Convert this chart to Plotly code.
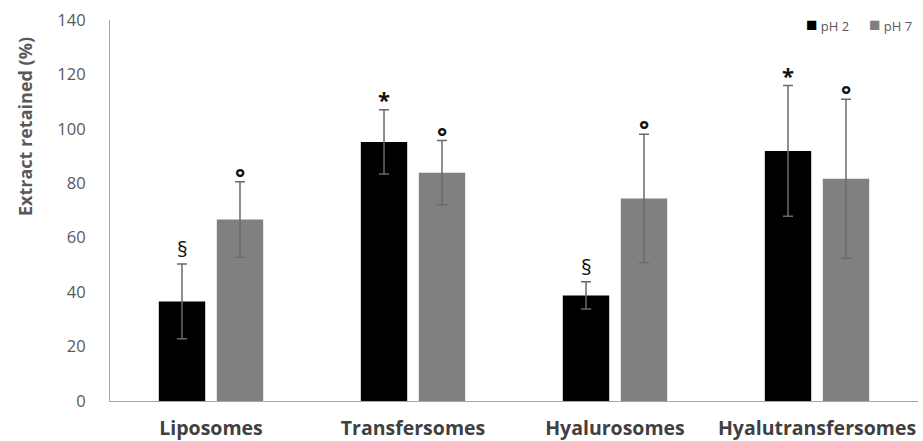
import plotly.graph_objects as go

categories = ["Liposomes", "Transfersomes", "Hyalurosomes", "Hyalutransfersomes"]
ph2_values = [36.6, 95.2, 38.8, 91.9]
ph2_errors = [13.7, 11.8, 5.0, 24.0]
ph7_values = [66.7, 83.9, 74.4, 81.7]
ph7_errors = [13.9, 11.8, 23.6, 29.2]
ph2_marks = ["§", "*", "§", "*"]
ph7_marks = ["°", "°", "°", "°"]
series_names = ["pH 2", "pH 7"]
series_colors = ["#000000", "#808080"]

BARGAP = 0.426
FONT = "'Open Sans', sans-serif"
ERR_COLOR = "#6a6a6a"
AXIS_GRAY = "#595959"

fig = go.Figure()
for name, color, vals, errs in zip(series_names, series_colors,
                                   (ph2_values, ph7_values), (ph2_errors, ph7_errors)):
    fig.add_trace(go.Bar(
        name=name, x=categories, y=vals, marker_color=color, marker_line_width=0,
        error_y=dict(type="data", array=errs, color=ERR_COLOR, thickness=1.5, width=5),
    ))

# significance marks above each error bar
mark_style = {"°": (24, -13), "*": (22, -6), "§": (21, -1)}
offset = (1 - BARGAP) / 4
for i, cat in enumerate(categories):
    for sign, vals, errs, marks in ((-1, ph2_values, ph2_errors, ph2_marks),
                                     (1, ph7_values, ph7_errors, ph7_marks)):
        mark = marks[i]
        size, shift = mark_style[mark]
        fig.add_annotation(
            x=i + sign * offset, y=vals[i] + errs[i], xref="x", yref="y",
            text=mark if mark == "§" else f"<b>{mark}</b>",
            showarrow=False, yanchor="bottom", yshift=shift,
            font=dict(family=FONT, size=size, color="#111111"),
        )

# legend keys in the top-right corner
legend_x = [0.859, 0.937]
for name, color, lx in zip(series_names, series_colors, legend_x):
    fig.add_annotation(
        x=lx, y=0.99, xref="paper", yref="paper", xanchor="left", yanchor="middle",
        showarrow=False,
        text=f'<span style="color:{color};font-size:19px">■</span> {name}',
        font=dict(family=FONT, size=13, color=AXIS_GRAY),
    )

# y-axis title sits toward the top of the axis
fig.add_annotation(
    x=-0.106, y=0.72, xref="paper", yref="paper", textangle=-90,
    xanchor="center", yanchor="middle", showarrow=False,
    text="<b>Extract retained (%)</b>",
    font=dict(family=FONT, size=18, color=AXIS_GRAY),
)

fig.update_layout(
    width=923, height=441,
    margin=dict(l=110, r=5, t=20, b=40),
    paper_bgcolor="white", plot_bgcolor="white",
    barmode="group", bargap=BARGAP, bargroupgap=0.2,
    font=dict(family=FONT),
    showlegend=False,
    xaxis=dict(
        showline=True, linecolor="#a6a6a6", linewidth=1.2, ticks="",
        tickfont=dict(family=FONT, size=19.5, color="#404040", weight="bold"),
        ticklabelstandoff=9, automargin=False,
    ),
    yaxis=dict(
        range=[0, 140], dtick=20, showgrid=False, zeroline=False,
        showline=True, linecolor="#a6a6a6", linewidth=1.2, ticks="",
        tickfont=dict(family=FONT, size=16.5, color=AXIS_GRAY),
        ticklabelstandoff=20, automargin=False,
    ),
)

fig.write_html("out.html")
